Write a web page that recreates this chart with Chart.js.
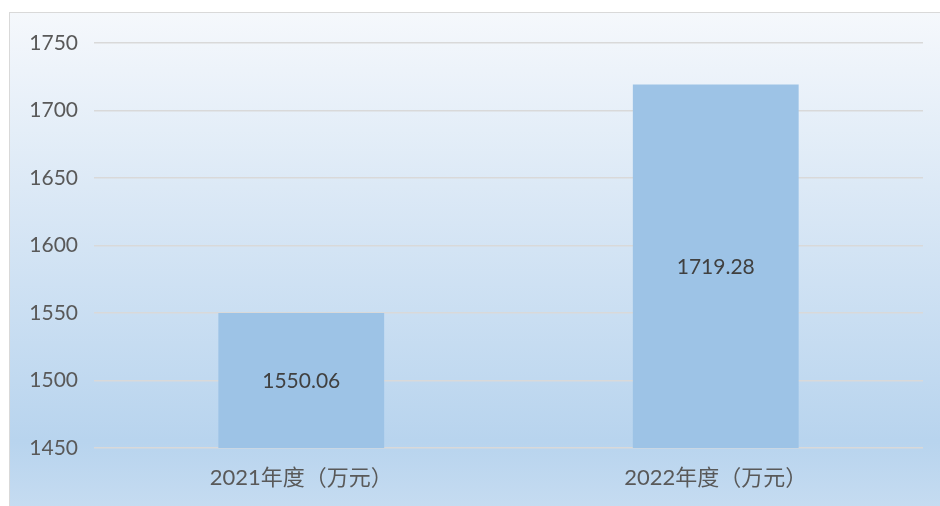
<!DOCTYPE html>
<html>
<head>
<meta charset="utf-8">
<script src="https://cdn.jsdelivr.net/npm/chart.js@4"></script>
<style>
  html, body { margin: 0; padding: 0; background: #ffffff; width: 940px; height: 506px; overflow: hidden; }
  #box {
    position: absolute; left: 9px; top: 12px; width: 940px; height: 500px;
    border: 1px solid #D9D9D9; box-sizing: border-box;
    background: linear-gradient(to bottom, #F5F8FC 0%, #DCE9F6 35%, #B8D4EE 86%, #C6DCF1 100%);
  }
  #wrap { position: absolute; left: 1px; top: 1px; width: 930px; height: 493px; }
</style>
</head>
<body>
<div id="box"><div id="wrap"><canvas id="c" width="930" height="493"></canvas></div></div>
<script>
const categories = ['2021年度（万元）', '2022年度（万元）'];
const values = [1550.06, 1719.28];
const yMin = 1450, yMax = 1750, yStep = 50;

const FONT = "Lato, 'Noto Sans CJK SC', sans-serif";

const centerLabels = {
  id: 'centerLabels',
  afterDraw(chart) {
    const ctx = chart.ctx;
    const meta = chart.getDatasetMeta(0);
    const yScale = chart.scales.y;
    const basePx = yScale.getPixelForValue(yMin);
    ctx.save();
    ctx.font = "21px " + FONT;
    ctx.fillStyle = '#404040';
    ctx.textAlign = 'center';
    ctx.textBaseline = 'middle';
    meta.data.forEach((bar, i) => {
      const cy = (bar.y + basePx) / 2 + 1;
      ctx.fillText(values[i].toFixed(2), bar.x, cy);
    });
    ctx.restore();
  }
};

new Chart(document.getElementById('c'), {
  type: 'bar',
  data: {
    labels: categories,
    datasets: [{
      data: values,
      backgroundColor: '#9DC3E6',
      borderWidth: 0,
      barPercentage: 0.4,
      categoryPercentage: 1.0
    }]
  },
  options: {
    responsive: false,
    animation: false,
    devicePixelRatio: 1,
    layout: { padding: { top: 29, right: 18, left: 0, bottom: 0 } },
    plugins: { legend: { display: false }, tooltip: { enabled: false } },
    scales: {
      x: {
        grid: { display: false, drawTicks: false },
        border: { display: false },
        ticks: { color: '#595959', font: { family: FONT, size: 22 }, padding: 17 },
        afterFit(s) { s.height = 59; }
      },
      y: {
        min: yMin, max: yMax,
        grid: { color: '#D9D9D9', lineWidth: 1.5, drawTicks: false },
        border: { display: false },
        ticks: { stepSize: yStep, color: '#595959', font: { family: FONT, size: 21 }, padding: 16,
                 callback: (v) => String(v) },
        afterFit(s) { s.width = 83; }
      }
    }
  },
  plugins: [centerLabels]
});
</script>
</body>
</html>
